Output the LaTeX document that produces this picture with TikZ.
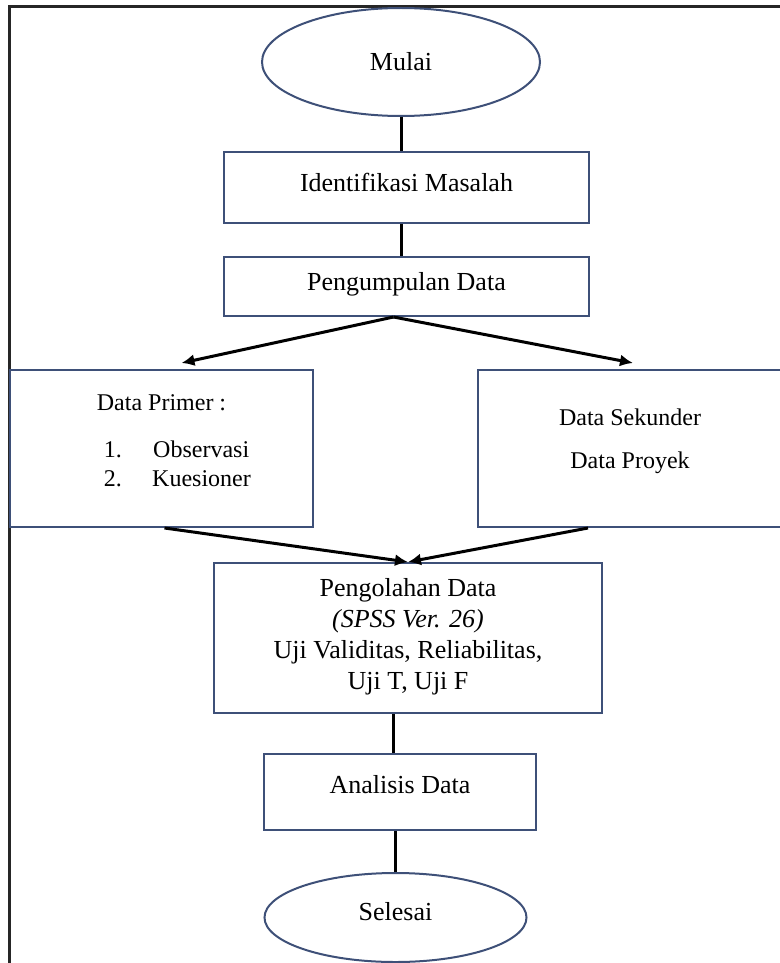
\documentclass[tikz,border=0pt]{standalone}
\usepackage{fontspec}
\setmainfont{Liberation Serif}
\usetikzlibrary{shapes.geometric,arrows.meta}
\definecolor{boxline}{HTML}{3E5078}
\tikzset{
  boxstyle/.style={draw=boxline, line width=2pt, rectangle, inner sep=0pt},
  ovalstyle/.style={draw=boxline, line width=2pt, ellipse, inner sep=0pt},
  txt/.style={inner sep=0pt, font=\fontsize{26}{31}\selectfont},
  smalltxt/.style={inner sep=0pt, font=\fontsize{24}{29}\selectfont},
  conn/.style={line width=3pt, black},
  arr/.style={line width=3pt, black, -{Latex[length=13pt,width=12pt]}},
}
\begin{document}
\begin{tikzpicture}[x=1pt,y=-1pt]
\useasboundingbox (0,0) rectangle (779,963);
% outer frame (cut off at right and bottom)
\draw[line width=3pt, black!85] (9.5,980) -- (9.5,6.5) -- (800,6.5);

% nodes
\node[ovalstyle, minimum width=278pt, minimum height=108pt] (mulai) at (401,62) {};
\node[txt] (mulaiT) at (401,62) {Mulai};

\node[boxstyle, minimum width=365pt, minimum height=71pt] (ident) at (406.5,187.5) {};
\node[txt] (identT) at (406.5,182) {Identifikasi Masalah};

\node[boxstyle, minimum width=365pt, minimum height=59pt] (kumpul) at (406.5,286.5) {};
\node[txt] (kumpulT) at (406.5,284) {Pengumpulan Data};

\node[boxstyle, minimum width=303pt, minimum height=157pt] (primer) at (161.5,448.5) {};
\node[smalltxt] (primerT) at (161.5,403) {Data Primer :};
\node[smalltxt, anchor=base east] (n1) at (122,457) {1.};
\node[smalltxt, anchor=base west] (o1) at (153,457) {Observasi};
\node[smalltxt, anchor=base east] (n2) at (122,486) {2.};
\node[smalltxt, anchor=base west] (o2) at (152,486) {Kuesioner};

\node[boxstyle, minimum width=304pt, minimum height=157pt] (sekunder) at (630,448.5) {};
\node[smalltxt] (sekT1) at (630,417) {Data Sekunder};
\node[smalltxt] (sekT2) at (630,463) {Data Proyek};

\node[boxstyle, minimum width=388pt, minimum height=150pt] (olah) at (408,638) {};
\node[txt, align=center] (olahT) at (408,637)
  {Pengolahan Data\\\textit{(SPSS Ver. 26)}\\Uji Validitas, Reliabilitas,\\Uji T, Uji F};

\node[boxstyle, minimum width=272pt, minimum height=76pt] (analisis) at (400,792) {};
\node[txt] (analisisT) at (400,785) {Analisis Data};

\node[ovalstyle, minimum width=262pt, minimum height=89pt] (selesai) at (395.5,917.5) {};
\node[txt] (selesaiT) at (395.5,912) {Selesai};

% connectors
\draw[conn] (mulai.south) -- (mulai.south |- ident.north);
\draw[conn] (ident.south -| mulai.south) -- (kumpul.north -| mulai.south);
\coordinate (apex) at ([xshift=-13pt]kumpul.south);
\draw[arr] (apex) -- ([xshift=20pt,yshift=6pt]primer.north);
\draw[arr] (apex) -- ([xshift=3pt,yshift=6pt]sekunder.north);
\draw[arr] ([xshift=3pt]primer.south) -- (olah.north);
\draw[arr] ([xshift=-42pt]sekunder.south) -- (olah.north);
\draw[conn] ([xshift=-7pt]analisis.north |- olah.south) -- ([xshift=-7pt]analisis.north);
\draw[conn] (selesai.north |- analisis.south) -- (selesai.north);
\end{tikzpicture}
\end{document}
